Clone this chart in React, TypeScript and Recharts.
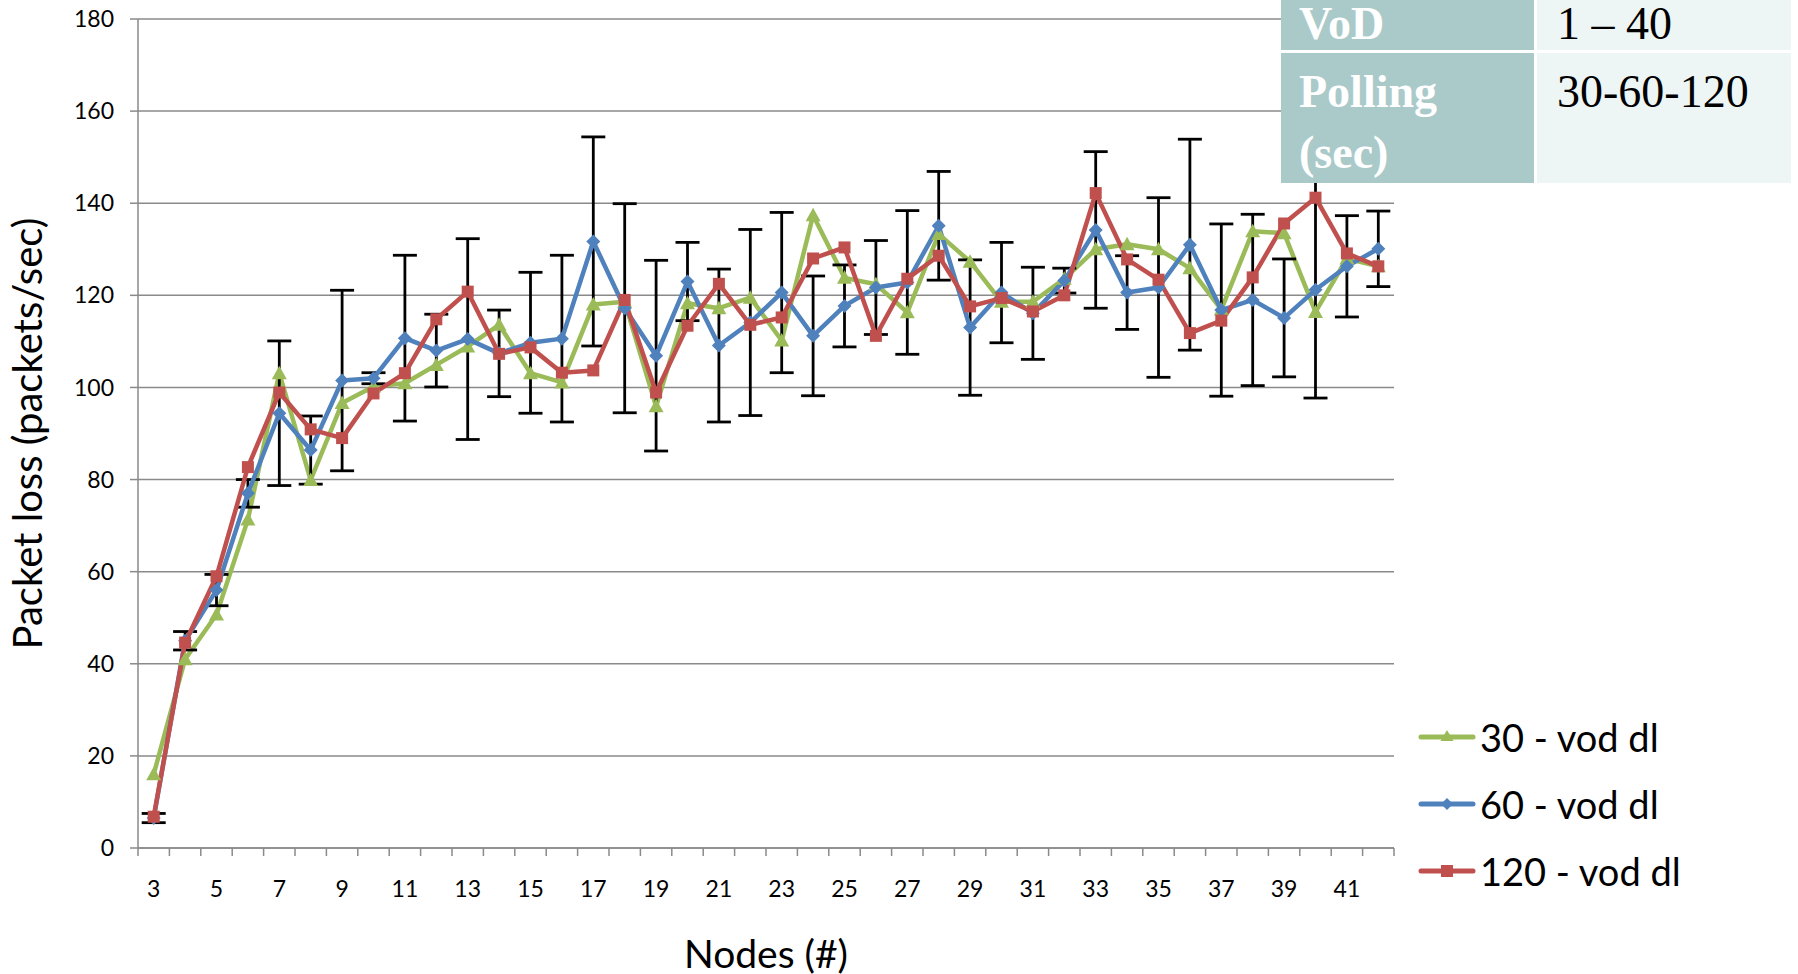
import React from 'react';
import { LineChart, Line, XAxis, YAxis, CartesianGrid, ErrorBar } from 'recharts';

// number of nodes on the x axis
const nodes = [
  3, 4, 5, 6, 7, 8, 9, 10, 11, 12, 13, 14, 15, 16, 17, 18, 19, 20, 21, 22,
  23, 24, 25, 26, 27, 28, 29, 30, 31, 32, 33, 34, 35, 36, 37, 38, 39, 40, 41, 42,
];

// packet loss (packets/sec) per polling interval
const poll30 = [
  16.0, 41.0, 50.7, 71.3, 103.1, 79.9, 96.6, 100.2, 100.9, 104.9,
  108.9, 113.6, 103.1, 101.1, 118.0, 118.6, 95.9, 118.3, 117.2, 119.5,
  110.2, 137.4, 123.8, 122.4, 116.3, 133.3, 127.3, 118.6, 118.6, 123.6,
  130.0, 131.1, 130.0, 125.9, 116.9, 133.9, 133.5, 116.4, 128.0, 126.3,
];
const poll60 = [
  6.5, 45.0, 56.0, 77.0, 94.4, 86.4, 101.5, 102.0, 110.7, 108.0,
  110.5, 107.4, 109.7, 110.6, 131.7, 117.2, 106.9, 123.0, 109.1, 114.1,
  120.6, 111.2, 117.7, 121.7, 122.8, 135.1, 113.0, 120.6, 116.1, 123.2,
  134.2, 120.6, 121.7, 131.0, 116.8, 119.0, 115.1, 121.2, 126.3, 130.1,
];
const poll120 = [
  6.8, 44.6, 59.0, 82.7, 98.9, 90.9, 89.0, 98.7, 103.1, 114.8,
  120.8, 107.3, 108.7, 103.2, 103.7, 119.0, 98.9, 113.4, 122.5, 113.6,
  115.2, 128.0, 130.4, 111.2, 123.6, 128.6, 117.6, 119.4, 116.5, 120.0,
  142.2, 127.8, 123.4, 111.8, 114.5, 123.9, 135.6, 141.2, 129.1, 126.3,
];
// +/- deviation shown on the 60 s series
const poll60Err = [
  1.0, 2.0, 3.4, 3.0, 15.7, 7.4, 19.6, 1.2, 18.0, 7.9,
  21.8, 9.4, 15.3, 18.1, 22.7, 22.7, 20.7, 8.5, 16.6, 20.2,
  17.4, 13.0, 8.9, 10.2, 15.6, 11.8, 14.7, 10.9, 10.0, 2.7,
  17.0, 8.0, 19.5, 22.9, 18.7, 18.6, 12.8, 23.5, 11.0, 8.2,
];

const yTicks = [0, 20, 40, 60, 80, 100, 120, 140, 160, 180];

const GREEN = '#9BBB59';
const BLUE = '#4F81BD';
const RED = '#C0504D';
const GRID = '#8a8a8a';
const FONT = 'Lato, "Open Sans", sans-serif';

const data = nodes.map((n, i) => ({
  n,
  p30: poll30[i],
  p60: poll60[i],
  p120: poll120[i],
  err: poll60Err[i],
}));

// tick marks sit between categories, labels on every other node
const boundaries = [...nodes.map((n) => n - 0.5), nodes[nodes.length - 1] + 0.5];

const W = 1798;
const H = 974;
const margin = { top: 19, right: 404, bottom: 66, left: 78 };
const Y_AXIS_W = 60;
const X_AXIS_H = 60;
const plotW = W - margin.left - margin.right - Y_AXIS_W;
const step = plotW / nodes.length;

function NodeTick(props: any) {
  const { x, y, payload, index } = props;
  if (index % 2 !== 0 || index >= nodes.length) return <g />;
  return (
    <text x={x + step / 2} y={y} dy={39} textAnchor="middle" fontSize={23} fontFamily={FONT} fill="#000">
      {payload.value + 0.5}
    </text>
  );
}

const triangle = (color: string) => (props: any) => {
  const { cx, cy, index } = props;
  const r = 7.5;
  return (
    <polygon
      key={`t-${index}`}
      points={`${cx},${cy - r} ${cx + r},${cy + r * 0.8} ${cx - r},${cy + r * 0.8}`}
      fill={color}
    />
  );
};

const diamond = (color: string) => (props: any) => {
  const { cx, cy, index } = props;
  const r = 7;
  return (
    <polygon key={`d-${index}`} points={`${cx},${cy - r} ${cx + r},${cy} ${cx},${cy + r} ${cx - r},${cy}`} fill={color} />
  );
};

const square = (color: string) => (props: any) => {
  const { cx, cy, index } = props;
  const s = 12;
  return <rect key={`s-${index}`} x={cx - s / 2} y={cy - s / 2} width={s} height={s} fill={color} />;
};

const series = [
  { key: 'p30', name: '30 - vod dl', color: GREEN, shape: 'triangle' },
  { key: 'p60', name: '60 - vod dl', color: BLUE, shape: 'diamond' },
  { key: 'p120', name: '120 - vod dl', color: RED, shape: 'square' },
];

function LegendIcon({ color, shape }: { color: string; shape: string }) {
  return (
    <svg width={58} height={20} style={{ display: 'block' }}>
      <line x1={3} x2={55} y1={10} y2={10} stroke={color} strokeWidth={5} strokeLinecap="round" />
      {shape === 'triangle' && <polygon points="29,3 35.5,14 22.5,14" fill={color} />}
      {shape === 'diamond' && <polygon points="29,4 35,10 29,16 23,10" fill={color} />}
      {shape === 'square' && <rect x={23} y={4} width={12} height={12} fill={color} />}
    </svg>
  );
}

function InfoTable() {
  const dark = '#AACACA';
  const light = '#EEF5F5';
  const serif = '"Liberation Serif", "Times New Roman", serif';
  const cell: React.CSSProperties = {
    position: 'absolute',
    fontFamily: serif,
    fontSize: 46,
    lineHeight: '61px',
    whiteSpace: 'nowrap',
  };
  return (
    <div style={{ position: 'absolute', left: 0, top: 0, zIndex: 2 }}>
      <div style={{ ...cell, left: 1281, top: 0, width: 253, height: 50, background: dark }} />
      <div style={{ ...cell, left: 1537, top: 0, width: 254, height: 50, background: light }} />
      <div style={{ ...cell, left: 1281, top: 53, width: 253, height: 130, background: dark }} />
      <div style={{ ...cell, left: 1537, top: 53, width: 254, height: 130, background: light }} />
      <div style={{ ...cell, left: 1299, top: -7, color: '#fff', fontWeight: 'bold' }}>VoD</div>
      <div style={{ ...cell, left: 1557, top: -7, color: '#000' }}>1 – 40</div>
      <div style={{ ...cell, left: 1299, top: 61, color: '#fff', fontWeight: 'bold' }}>
        Polling
        <br />
        (sec)
      </div>
      <div style={{ ...cell, left: 1557, top: 61, color: '#000' }}>30-60-120</div>
    </div>
  );
}

export default function App() {
  return (
    <div style={{ position: 'absolute', left: 0, top: 0, width: W, height: H, background: '#fff', overflow: 'hidden' }}>
      <LineChart width={W} height={H} data={data} margin={margin}>
        <CartesianGrid vertical={false} stroke={GRID} strokeWidth={1.5} />
        <XAxis
          dataKey="n"
          type="number"
          domain={[boundaries[0], boundaries[boundaries.length - 1]]}
          ticks={boundaries}
          interval={0}
          height={X_AXIS_H}
          tick={<NodeTick />}
          tickSize={8}
          tickLine={{ stroke: GRID, strokeWidth: 1.5 }}
          axisLine={{ stroke: GRID, strokeWidth: 1.5 }}
          label={{ value: 'Nodes (#)', position: 'bottom', offset: 32, style: { fontSize: 39, fontFamily: FONT, fill: '#000' } }}
        />
        <YAxis
          domain={[0, 180]}
          ticks={yTicks}
          interval={0}
          width={Y_AXIS_W}
          tickSize={8}
          tickMargin={16}
          tickLine={{ stroke: GRID, strokeWidth: 1.5 }}
          axisLine={{ stroke: GRID, strokeWidth: 1.5 }}
          tick={{ fontSize: 23, fontFamily: FONT, fill: '#000' }}
          label={{
            value: 'Packet loss (packets/sec)',
            angle: -90,
            position: 'left',
            offset: 50,
            style: { textAnchor: 'middle', fontSize: 40, fontFamily: FONT, fill: '#000' },
          }}
        />
        <Line
          dataKey="p30"
          name="30 - vod dl"
          stroke={GREEN}
          strokeWidth={4.5}
          strokeLinejoin="round"
          dot={triangle(GREEN)}
          isAnimationActive={false}
        />
        <Line
          dataKey="p60"
          name="60 - vod dl"
          stroke={BLUE}
          strokeWidth={4.5}
          strokeLinejoin="round"
          dot={diamond(BLUE)}
          isAnimationActive={false}
        >
          <ErrorBar dataKey="err" width={12} strokeWidth={2.8} stroke="#000" direction="y" isAnimationActive={false} />
        </Line>
        <Line
          dataKey="p120"
          name="120 - vod dl"
          stroke={RED}
          strokeWidth={4.5}
          strokeLinejoin="round"
          dot={square(RED)}
          isAnimationActive={false}
        />
      </LineChart>

      <div style={{ position: 'absolute', left: 1418, top: 703, fontFamily: FONT, fontSize: 38, color: '#000' }}>
        {series.map((s) => (
          <div key={s.key} style={{ display: 'flex', alignItems: 'center', height: 67 }}>
            <LegendIcon color={s.color} shape={s.shape} />
            <span style={{ marginLeft: 4 }}>{s.name}</span>
          </div>
        ))}
      </div>

      <InfoTable />
    </div>
  );
}
